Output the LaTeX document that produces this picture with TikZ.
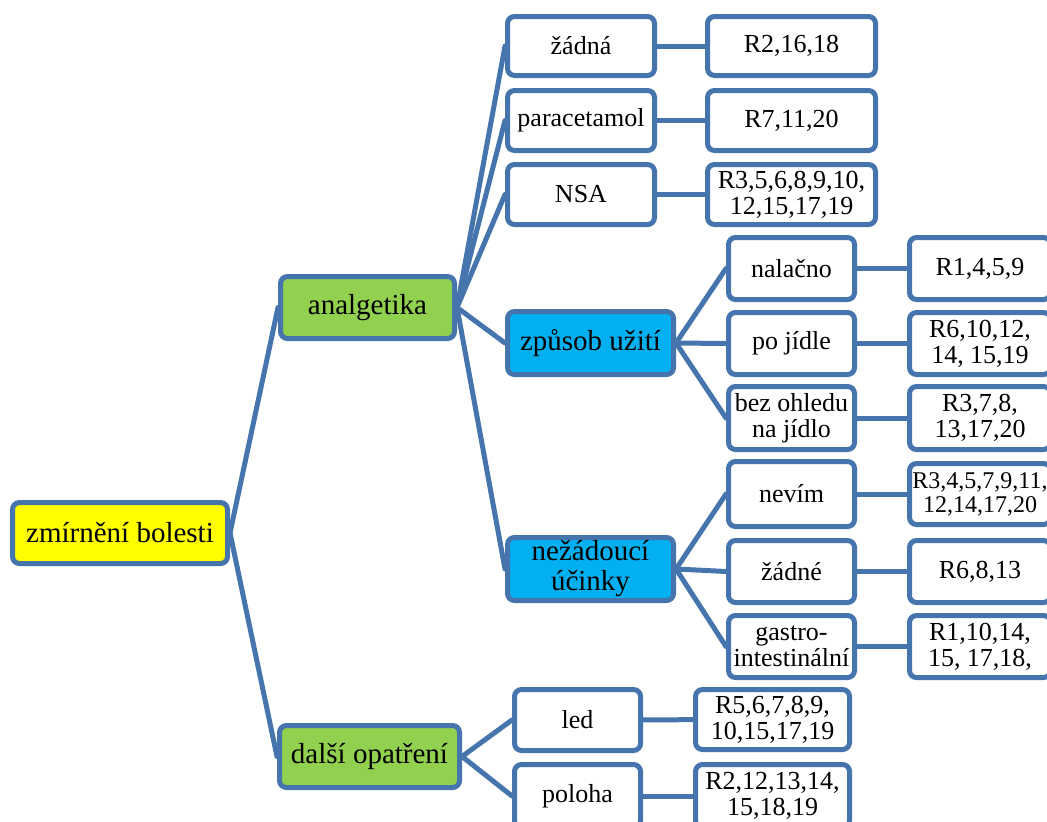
\documentclass[tikz,border=0pt]{standalone}
\usepackage{fontspec}
\setmainfont{Liberation Serif}
\usetikzlibrary{backgrounds}

\definecolor{edgeblue}{RGB}{70,116,172}
\definecolor{rootyellow}{RGB}{255,255,0}
\definecolor{catgreen}{RGB}{146,208,80}
\definecolor{subblue}{RGB}{0,176,240}

\tikzset{
  box/.style={draw=edgeblue, line width=5pt, rounded corners=7pt, fill=white,
              inner sep=0pt, align=center, text=black,
              font=\fontsize{26}{26}\selectfont},
  bigtext/.style={font=\fontsize{29}{30}\selectfont},
  smalltext/.style={font=\fontsize{24}{24}\selectfont},
  link/.style={draw=edgeblue, line width=5pt, line cap=round},
}

\begin{document}
\begin{tikzpicture}[x=1pt, y=-1pt]
  \path[use as bounding box] (0,0) rectangle (1047,822);
  \clip (0,0) rectangle (1047,822);

  % root and main branches
  \node[box, bigtext, fill=rootyellow, minimum width=215pt, minimum height=61pt] (root) at (120,533) {zmírnění bolesti};
  \node[box, bigtext, fill=catgreen, minimum width=174pt, minimum height=62pt] (analg) at (367.5,307.5) {analgetika};
  \node[box, bigtext, fill=catgreen, minimum width=180pt, minimum height=62pt] (dalsi) at (369.5,756.5) {další opatření};

  % analgesics: kind
  \node[box, minimum width=147pt, minimum height=59pt] (zadna) at (581,46) {žádná};
  \node[box, minimum width=147pt, minimum height=60pt] (para) at (581,120.5) {paracetamol};
  \node[box, minimum width=147pt, minimum height=60pt] (nsa) at (581,194.5) {NSA};
  \node[box, minimum width=168pt, minimum height=59pt] (rzadna) at (791.5,46) {R2,16,18};
  \node[box, minimum width=168pt, minimum height=60pt] (rpara) at (791.5,120.5) {R7,11,20};
  \node[box, minimum width=168pt, minimum height=60pt] (rnsa) at (791.5,194.5) {R3,5,6,8,9,10,\\12,15,17,19};

  % analgesics: way of use
  \node[box, bigtext, fill=subblue, minimum width=166pt, minimum height=63pt] (zpusob) at (590.5,343) {způsob užití};
  \node[box, minimum width=126pt, minimum height=62pt] (nalacno) at (791.5,268.5) {nalačno};
  \node[box, minimum width=126pt, minimum height=62pt] (pojidle) at (791.5,343.5) {po jídle};
  \node[box, minimum width=126pt, minimum height=63pt] (bez) at (791.5,418) {bez ohledu\\na jídlo};
  \node[box, minimum width=141pt, minimum height=62pt] (rnalacno) at (980,268.5) {R1,4,5,9};
  \node[box, minimum width=141pt, minimum height=62pt] (rpojidle) at (980,343.5) {R6,10,12,\\14, 15,19};
  \node[box, minimum width=141pt, minimum height=63pt] (rbez) at (980,418) {R3,7,8,\\13,17,20};

  % analgesics: side effects
  \node[box, bigtext, fill=subblue, minimum width=166pt, minimum height=63pt] (nezad) at (590.5,569) {nežádoucí\\účinky};
  \node[box, minimum width=126pt, minimum height=65pt] (nevim) at (791.5,494) {nevím};
  \node[box, minimum width=126pt, minimum height=62pt] (zadne) at (791.5,571.5) {žádné};
  \node[box, minimum width=126pt, minimum height=62pt] (gastro) at (791.5,646.5) {gastro-\\intestinální};
  \node[box, smalltext, minimum width=141pt, minimum height=61pt] (rnevim) at (980,494) {R3,4,5,7,9,11,\\12,14,17,20};
  \node[box, minimum width=141pt, minimum height=62pt] (rzadne) at (980,571.5) {R6,8,13};
  \node[box, minimum width=141pt, minimum height=62pt] (rgastro) at (980,646.5) {R1,10,14,\\15, 17,18,};

  % other measures
  \node[box, minimum width=126pt, minimum height=61pt] (led) at (577.5,720) {led};
  \node[box, minimum width=126pt, minimum height=63pt] (poloha) at (577.5,796) {poloha};
  \node[box, minimum width=154pt, minimum height=60pt] (rled) at (772.5,719.5) {R5,6,7,8,9,\\10,15,17,19};
  \node[box, minimum width=154pt, minimum height=63pt] (rpoloha) at (772.5,796) {R2,12,13,14,\\15,18,19};

  % connectors
  \begin{pgfonlayer}{background}
    \draw[link] (root.east) -- (analg.west);
    \draw[link] (root.east) -- (dalsi.west);
    \foreach \c in {zadna, para, nsa, zpusob, nezad}
      \draw[link] (analg.east) -- (\c.west);
    \foreach \c in {nalacno, pojidle, bez}
      \draw[link] (zpusob.east) -- (\c.west);
    \foreach \c in {nevim, zadne, gastro}
      \draw[link] (nezad.east) -- (\c.west);
    \foreach \c in {led, poloha}
      \draw[link] (dalsi.east) -- (\c.west);
    \draw[link] (zadna) -- (rzadna);
    \draw[link] (para) -- (rpara);
    \draw[link] (nsa) -- (rnsa);
    \draw[link] (nalacno) -- (rnalacno);
    \draw[link] (pojidle) -- (rpojidle);
    \draw[link] (bez) -- (rbez);
    \draw[link] (nevim) -- (rnevim);
    \draw[link] (zadne) -- (rzadne);
    \draw[link] (gastro) -- (rgastro);
    \draw[link] (led) -- (rled);
    \draw[link] (poloha) -- (rpoloha);
  \end{pgfonlayer}
\end{tikzpicture}
\end{document}
